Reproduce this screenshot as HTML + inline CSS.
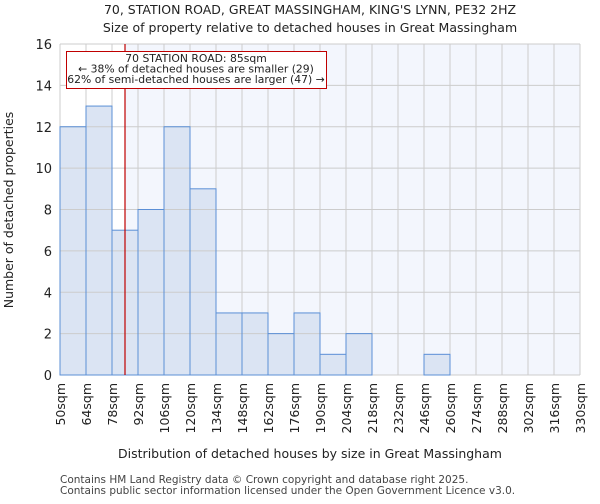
<!DOCTYPE html>
<html><head><meta charset="utf-8"><style>
body{margin:0;background:#fff;font-family:"DejaVu Sans","Liberation Sans",sans-serif;}
svg text{font-family:"DejaVu Sans","Liberation Sans",sans-serif;}
</style></head><body>
<svg id="c" width="600" height="500" viewBox="0 0 600 500" xmlns="http://www.w3.org/2000/svg">
<text x="310" y="14" text-anchor="middle" font-size="12.5" fill="#222">70, STATION ROAD, GREAT MASSINGHAM, KING'S LYNN, PE32 2HZ</text>
<text x="310" y="32" text-anchor="middle" font-size="12.5" fill="#222">Size of property relative to detached houses in Great Massingham</text>
<g id="plot"></g>
<text x="310" y="458" text-anchor="middle" font-size="12.5" fill="#222">Distribution of detached houses by size in Great Massingham</text>
<text transform="translate(13,210) rotate(-90)" text-anchor="middle" font-size="12.5" fill="#222">Number of detached properties</text>
<text x="60" y="483" font-size="10.5" fill="#444">Contains HM Land Registry data © Crown copyright and database right 2025.</text>
<text x="60" y="494" font-size="10.5" fill="#444">Contains public sector information licensed under the Open Government Licence v3.0.</text>
</svg>
<script>
const binStarts=[50,64,78,92,106,120,134,148,162,176,190,204,218,232,246,260,274,288,302,316];
const counts=[12,13,7,8,12,9,3,3,2,3,1,2,0,0,1,0,0,0,0,0];
const tickLabels=["50sqm","64sqm","78sqm","92sqm","106sqm","120sqm","134sqm","148sqm","162sqm","176sqm","190sqm","204sqm","218sqm","232sqm","246sqm","260sqm","274sqm","288sqm","302sqm","316sqm","330sqm"];
const yTicks=[0,2,4,6,8,10,12,14,16];
const propertySize=85;
const binWidth=14;
const xMin=50,xMax=330,yMax=16;
const L=60,R=580,T=44,B=375;
const xs=v=>L+(v-xMin)/(xMax-xMin)*(R-L);
const ys=v=>B-v/yMax*(B-T);
const NS="http://www.w3.org/2000/svg";
const g=document.getElementById('plot');
function mk(t,a){const e=document.createElementNS(NS,t);for(const k in a)e.setAttribute(k,a[k]);g.appendChild(e);return e;}
const px=xs(propertySize);
let e=mk('rect',{x:px,y:T,width:R-px,height:B-T,fill:'#f3f6fd'});


counts.forEach((c,i)=>{if(c<=0)return;const x0=xs(binStarts[i]),x1=xs(binStarts[i]+binWidth);
const r=mk('rect',{x:x0,y:ys(c),width:x1-x0,height:B-ys(c),fill:'#dbe4f3'});

});
for(let i=0;i<=binStarts.length;i++){const v=xMin+i*binWidth;const l=mk('line',{x1:xs(v),x2:xs(v),y1:T,y2:B,stroke:'#cccccc','stroke-width':1});

}
yTicks.forEach(v=>{const l=mk('line',{x1:L,x2:R,y1:ys(v),y2:ys(v),stroke:'#cccccc','stroke-width':1});


const t=mk('text',{x:L-8,y:ys(v)+5,'text-anchor':'end','font-size':13,fill:'#222'});t.textContent=v;

});
counts.forEach((c,i)=>{if(c<=0)return;const x0=xs(binStarts[i]),x1=xs(binStarts[i]+binWidth);
const r=mk('rect',{x:x0,y:ys(c),width:x1-x0,height:B-ys(c),fill:'none',stroke:'#5b8fd6','stroke-width':1});

});
tickLabels.forEach((s,i)=>{const x=xs(xMin+i*binWidth);const t=mk('text',{transform:`translate(${x+5},${B+8}) rotate(-90)`,'text-anchor':'end','font-size':12.5,fill:'#222'});t.textContent=s;

});
e=mk('line',{x1:px,x2:px,y1:T,y2:B,stroke:'#c00000','stroke-width':1.2});


e=mk('rect',{x:66.5,y:51.5,width:260,height:37,fill:'#fff',stroke:'#c00000','stroke-width':1});


["70 STATION ROAD: 85sqm","← 38% of detached houses are smaller (29)","62% of semi-detached houses are larger (47) →"].forEach((s,i)=>{const t=mk('text',{x:196,y:62+i*10.5,'text-anchor':'middle','font-size':10.8,fill:'#222'});t.textContent=s;

});
</script>
</body></html>
